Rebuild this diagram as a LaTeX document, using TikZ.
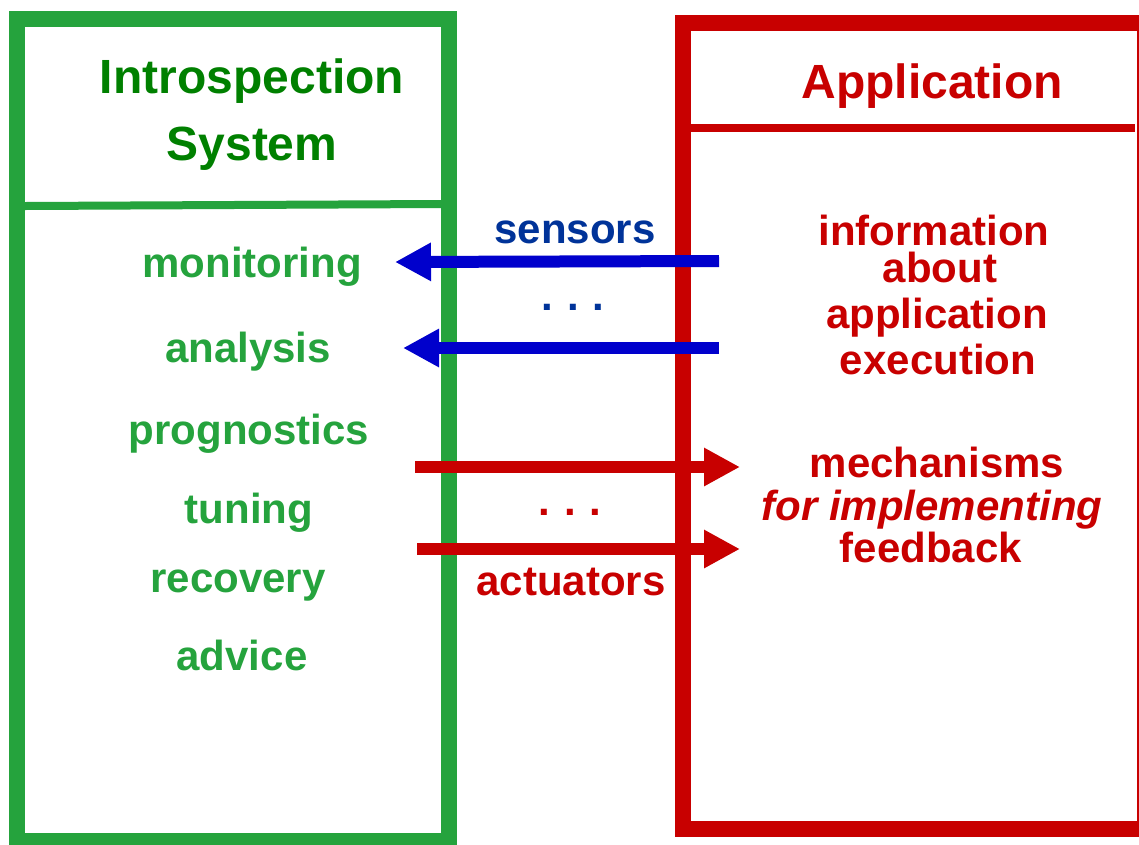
\documentclass[tikz,border=0pt]{standalone}
\usepackage{fontspec}
\setmainfont{Liberation Sans}
\usetikzlibrary{arrows.meta}
\definecolor{boxgreen}{RGB}{37,163,61}
\definecolor{titlegreen}{RGB}{0,128,0}
\definecolor{appred}{RGB}{200,0,0}
\definecolor{arrowblue}{RGB}{0,0,204}
\definecolor{textblue}{RGB}{0,51,153}
\tikzset{
  lbl/.style={anchor=base, inner sep=0pt, font=\fontsize{42}{50}\selectfont\bfseries},
  ttl/.style={anchor=base, inner sep=0pt, font=\fontsize{48}{56}\selectfont\bfseries},
  frame/.style={line width=16pt},
  divider/.style={line width=8pt},
  fat/.style={line width=12pt, -{Triangle[length=36pt,width=36pt]}},
}
\begin{document}
\begin{tikzpicture}[x=1pt,y=-1pt]
\clip (0,0) rectangle (1139,844);
\fill[white] (0,0) rectangle (1139,844);
% boxes
\draw[frame, boxgreen] (17,19) rectangle (449,841);
\draw[divider, boxgreen] (25,206) -- (441,204);
\draw[frame, appred] (683,23) rectangle (1145,829);
\draw[divider, appred] (691,128) -- (1135,128);
% titles
\node[ttl, text=titlegreen] (t1) at (252,93) {Introspection};
\node[ttl, text=titlegreen] (t2) at (252,160) {System};
\node[ttl, text=appred] (t3) at (932,98) {Application};
% left list
\node[lbl, text=boxgreen] (m1) at (252,277) {monitoring};
\node[lbl, text=boxgreen] (m2) at (248,362) {analysis};
\node[lbl, text=boxgreen] (m3) at (249,444) {prognostics};
\node[lbl, text=boxgreen] (m4) at (249,523) {tuning};
\node[lbl, text=boxgreen] (m5) at (238,592) {recovery};
\node[lbl, text=boxgreen] (m6) at (242,670) {advice};
% right texts
\node[lbl, text=appred] (r1) at (934,245) {information};
\node[lbl, text=appred] (r2) at (940,282) {about};
\node[lbl, text=appred] (r3) at (937,328) {application};
\node[lbl, text=appred] (r4) at (938,374) {execution};
\node[lbl, text=appred] (r5) at (937,477) {mechanisms};
\node[lbl, text=appred] (r6) at (932,520) {\itshape for implementing};
\node[lbl, text=appred] (r7) at (931,562) {feedback};
% middle labels
\node[lbl, text=textblue] (sens) at (575,243) {sensors};
\node[lbl, text=textblue] (bd) at (573,310) {.\,\,.\,\,.};
\node[lbl, text=appred] (rd) at (570,515) {.\,\,.\,\,.};
\node[lbl, text=appred] (act) at (571,595) {actuators};
% arrows
\coordinate (s1a) at (719,261);
\coordinate (s1b) at (395,262);
\coordinate (s2a) at (719,348);
\coordinate (s2b) at (403,348);
\coordinate (a1a) at (415,467);
\coordinate (a1b) at (740,467);
\coordinate (a2a) at (417,549);
\coordinate (a2b) at (740,549);
\draw[fat, arrowblue] (s1a) -- (s1b);
\draw[fat, arrowblue] (s2a) -- (s2b);
\draw[fat, appred] (a1a) -- (a1b);
\draw[fat, appred] (a2a) -- (a2b);
\end{tikzpicture}
\end{document}
